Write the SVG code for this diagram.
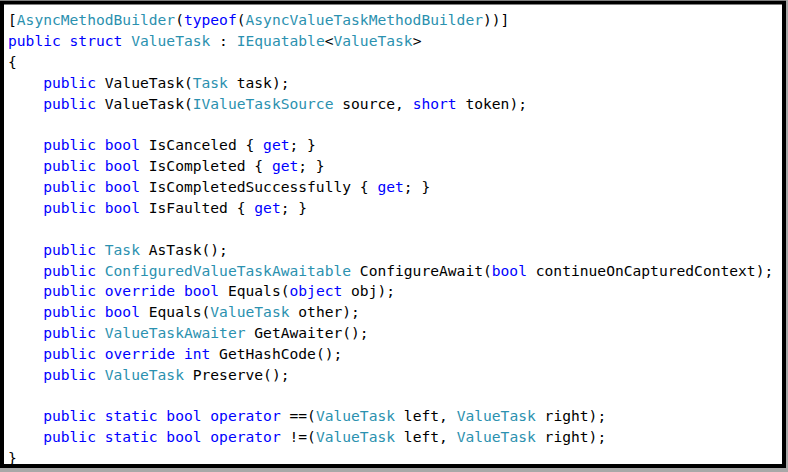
<svg xmlns="http://www.w3.org/2000/svg" width="788" height="472" viewBox="0 0 788 472">
<style>
text{font-family:"DejaVu Sans Mono","Liberation Mono",monospace;font-size:14.62px;fill:#000}
.k{fill:#0000ff}
.t{fill:#2b91af}
</style>
<rect x="0" y="0" width="788" height="472" fill="#a8a8a8"/>
<rect x="0" y="0" width="786" height="468" fill="#ffffff"/>
<g id="code">
<text x="8" y="25.3" xml:space="preserve">[<tspan class="t">AsyncMethodBuilder</tspan>(<tspan class="k">typeof</tspan>(<tspan class="t">AsyncValueTaskMethodBuilder</tspan>))]</text>
<text x="8" y="46.15" xml:space="preserve"><tspan class="k">public</tspan> <tspan class="k">struct</tspan> <tspan class="t">ValueTask</tspan> : <tspan class="t">IEquatable</tspan>&lt;<tspan class="t">ValueTask</tspan>&gt;</text>
<text x="8" y="67" xml:space="preserve">{</text>
<text x="43.2" y="87.85" xml:space="preserve"><tspan class="k">public</tspan> ValueTask(<tspan class="t">Task</tspan> task);</text>
<text x="43.2" y="108.7" xml:space="preserve"><tspan class="k">public</tspan> ValueTask(<tspan class="t">IValueTaskSource</tspan> source, <tspan class="k">short</tspan> token);</text>
<text x="43.2" y="150.4" xml:space="preserve"><tspan class="k">public</tspan> <tspan class="k">bool</tspan> IsCanceled { <tspan class="k">get</tspan>; }</text>
<text x="43.2" y="171.25" xml:space="preserve"><tspan class="k">public</tspan> <tspan class="k">bool</tspan> IsCompleted { <tspan class="k">get</tspan>; }</text>
<text x="43.2" y="192.1" xml:space="preserve"><tspan class="k">public</tspan> <tspan class="k">bool</tspan> IsCompletedSuccessfully { <tspan class="k">get</tspan>; }</text>
<text x="43.2" y="212.95" xml:space="preserve"><tspan class="k">public</tspan> <tspan class="k">bool</tspan> IsFaulted { <tspan class="k">get</tspan>; }</text>
<text x="43.2" y="254.65" xml:space="preserve"><tspan class="k">public</tspan> <tspan class="t">Task</tspan> AsTask();</text>
<text x="43.2" y="275.5" xml:space="preserve"><tspan class="k">public</tspan> <tspan class="t">ConfiguredValueTaskAwaitable</tspan> ConfigureAwait(<tspan class="k">bool</tspan> continueOnCapturedContext);</text>
<text x="43.2" y="296.35" xml:space="preserve"><tspan class="k">public</tspan> <tspan class="k">override</tspan> <tspan class="k">bool</tspan> Equals(<tspan class="k">object</tspan> obj);</text>
<text x="43.2" y="317.2" xml:space="preserve"><tspan class="k">public</tspan> <tspan class="k">bool</tspan> Equals(<tspan class="t">ValueTask</tspan> other);</text>
<text x="43.2" y="338.05" xml:space="preserve"><tspan class="k">public</tspan> <tspan class="t">ValueTaskAwaiter</tspan> GetAwaiter();</text>
<text x="43.2" y="358.9" xml:space="preserve"><tspan class="k">public</tspan> <tspan class="k">override</tspan> <tspan class="k">int</tspan> GetHashCode();</text>
<text x="43.2" y="379.75" xml:space="preserve"><tspan class="k">public</tspan> <tspan class="t">ValueTask</tspan> Preserve();</text>
<text x="43.2" y="421.45" xml:space="preserve"><tspan class="k">public</tspan> <tspan class="k">static</tspan> <tspan class="k">bool</tspan> <tspan class="k">operator</tspan> ==(<tspan class="t">ValueTask</tspan> left, <tspan class="t">ValueTask</tspan> right);</text>
<text x="43.2" y="442.3" xml:space="preserve"><tspan class="k">public</tspan> <tspan class="k">static</tspan> <tspan class="k">bool</tspan> <tspan class="k">operator</tspan> !=(<tspan class="t">ValueTask</tspan> left, <tspan class="t">ValueTask</tspan> right);</text>
<text x="8" y="463.15" xml:space="preserve">}</text>
</g>
<rect id="frame" x="2" y="2.5" width="782" height="463.5" fill="none" stroke="#000" stroke-width="4"/>
</svg>
